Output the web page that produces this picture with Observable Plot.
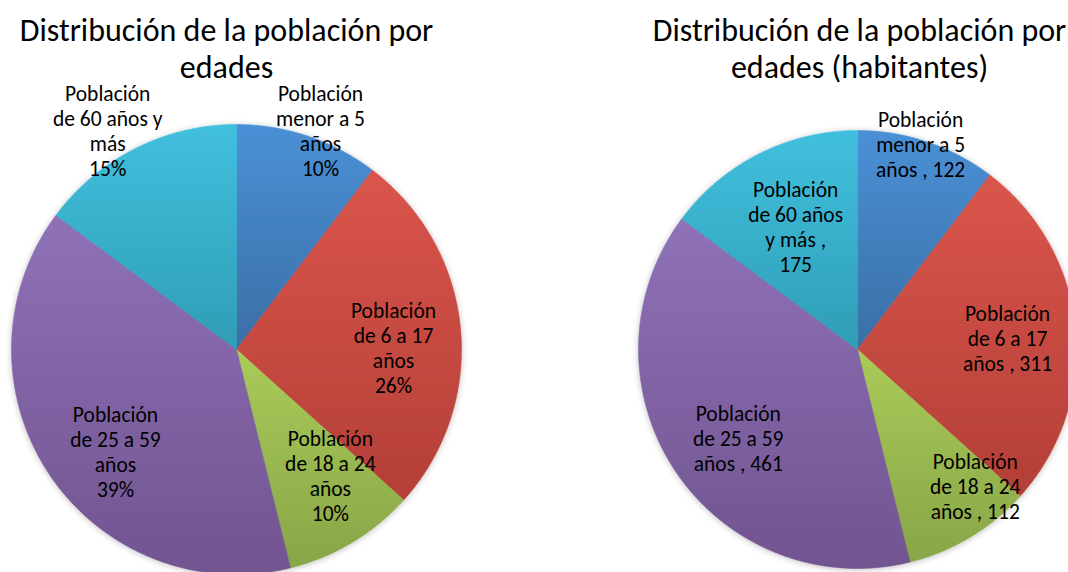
<!DOCTYPE html>
<html><head><meta charset="utf-8">
<script src="https://cdn.jsdelivr.net/npm/d3@7"></script>
<script src="https://cdn.jsdelivr.net/npm/@observablehq/plot@0.6"></script>
<style>html,body{margin:0;padding:0;background:#fff}#chart svg{display:block}</style>
</head><body><div id="chart"></div>
<script>
// ---- data ----
const categories = ["Población menor a 5 años", "Población de 6 a 17 años", "Población de 18 a 24 años", "Población de 25 a 59 años", "Población de 60 años y más"];
const habitantes = [122, 311, 112, 461, 175];
const leftNames = ["Población\nmenor a 5\naños", "Población\nde 6 a 17\naños", "Población\nde 18 a 24\naños", "Población\nde 25 a 59\naños", "Población\nde 60 años y\nmás"];
const leftTitle = "Distribución de la población por\nedades";
const rightTitle = "Distribución de la población por\nedades (habitantes)";

// ---- styles ----
const colorTop = ["#4a90d6", "#da554c", "#aacb58", "#8f71b7", "#41c0de"];
const colorBottom = ["#3a6ea5", "#b33f37", "#88a548", "#715490", "#2f9db6"];
const FONT = "Carlito, Calibri, Lato, sans-serif";
const W = 1068, H = 572;

// percentages rounded so they sum to 100 (largest remainder)
function roundedPercents(vals) {
  const total = d3.sum(vals);
  const raw = vals.map(v => v / total * 100);
  const fl = raw.map(Math.floor);
  let left = 100 - d3.sum(fl);
  const order = d3.range(vals.length).sort((a, b) => (raw[b] - fl[b]) - (raw[a] - fl[a]));
  for (let k = 0; k < left; k++) fl[order[k]]++;
  return fl;
}
function wrap(s, max) {
  const words = s.split(" ");
  const lines = []; let cur = "";
  for (const w of words) {
    if (!cur) cur = w;
    else if ((cur + " " + w).length <= max) cur += " " + w;
    else { lines.push(cur); cur = w; }
  }
  if (cur) lines.push(cur);
  return lines.join("\n");
}
const pct = roundedPercents(habitantes);

// label placement: radial factor and position within the slice's angle span (best-fit style)
const pies = [
  {cx: 236, cy: 349, r: 225, title: leftTitle, titleX: 226, titleY: 47,
   labelR: [1.043, 0.698, 0.697, 0.703, 1.131],
   labelT: [0.564, 0.55, 0.33, 0.454, 0.43],
   label: (v, i) => leftNames[i] + "\n" + pct[i] + "%"},
  {cx: 857, cy: 349, r: 219, title: rightTitle, titleX: 859, titleY: 47,
   labelR: [0.98, 0.687, 0.822, 0.679, 0.629],
   labelT: [0.46, 0.51, 0.21, 0.478, 0.50],
   label: (v, i) => wrap(`${categories[i]} , ${v}`, 10)}
];

const arcs = d3.pie().sort(null).value(d => d)(habitantes);
const slicePts = [], labels = [], titles = [];
pies.forEach((p, pi) => {
  arcs.forEach((a, i) => {
    const key = pi + "-" + i, fill = `url(#g${i})`;
    slicePts.push({key, fill, x: p.cx, y: p.cy});
    const n = Math.ceil((a.endAngle - a.startAngle) / 0.004);
    for (let k = 0; k <= n; k++) {
      const t = a.startAngle + (a.endAngle - a.startAngle) * k / n;
      slicePts.push({key, fill, x: p.cx + p.r * Math.sin(t), y: p.cy - p.r * Math.cos(t)});
    }
    slicePts.push({key, fill, x: p.cx, y: p.cy});
    const m = a.startAngle + (a.endAngle - a.startAngle) * p.labelT[i], rr = p.r * p.labelR[i];
    labels.push({x: p.cx + rr * Math.sin(m), y: p.cy - rr * Math.cos(m), text: p.label(a.data, i)});
  });
  titles.push({x: p.titleX, y: p.titleY, text: p.title});
});

const svg = Plot.plot({
  width: W, height: H, margin: 0,
  x: {domain: [0, W], range: [0, W], axis: null},
  y: {domain: [0, H], range: [0, H], axis: null},
  color: {type: "identity"},
  style: {fontFamily: FONT, background: "white", color: "black"},
  marks: [
    Plot.line(slicePts, {x: "x", y: "y", z: "key", fill: "fill", stroke: "fill", strokeWidth: 0.6, curve: "linear"}),
    Plot.text(labels, {x: "x", y: "y", text: "text", fontSize: 21.5, lineHeight: 1.163, fill: "#000", textAnchor: "middle", lineAnchor: "middle"}),
    Plot.text(titles, {x: "x", y: "y", text: "text", fontSize: 32, lineHeight: 1.15, fill: "#000", textAnchor: "middle", lineAnchor: "middle"})
  ]
});

const defs = d3.select(svg).insert("defs", ":first-child");
colorTop.forEach((c, i) => {
  const g = defs.append("linearGradient").attr("id", "g" + i).attr("x1", 0).attr("y1", 0).attr("x2", 0).attr("y2", 1);
  g.append("stop").attr("offset", "0%").attr("stop-color", c);
  g.append("stop").attr("offset", "100%").attr("stop-color", colorBottom[i]);
});
const f = defs.append("filter").attr("id", "shadow").attr("x", "-10%").attr("y", "-10%").attr("width", "120%").attr("height", "120%");
f.append("feGaussianBlur").attr("in", "SourceAlpha").attr("stdDeviation", 3).attr("result", "b");
f.append("feOffset").attr("in", "b").attr("dx", 0).attr("dy", 1).attr("result", "o");
f.append("feComponentTransfer").attr("in", "o").attr("result", "s").append("feFuncA").attr("type", "linear").attr("slope", 0.25);
const fm = f.append("feMerge");
fm.append("feMergeNode").attr("in", "s");
fm.append("feMergeNode").attr("in", "SourceGraphic");
d3.select(svg).select('g[aria-label="line"]').attr("filter", "url(#shadow)");

document.getElementById("chart").appendChild(svg);
</script>
</body></html>
